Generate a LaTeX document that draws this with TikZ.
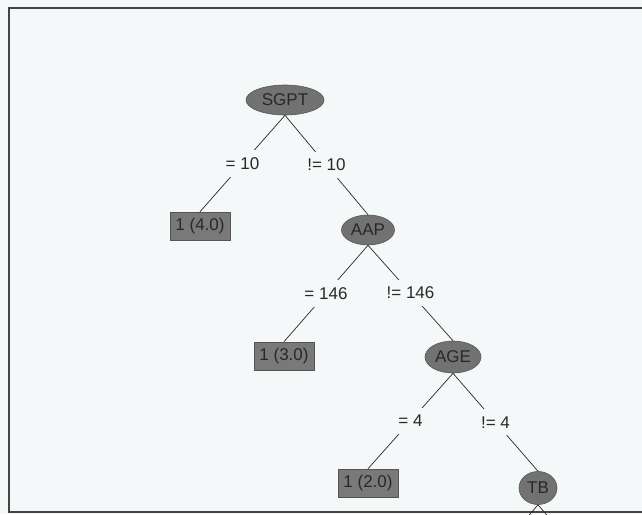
\documentclass[tikz,border=0pt]{standalone}
\usepackage{fontspec}
\setmainfont{Liberation Sans}
\usepackage{tikz}
\usetikzlibrary{
  	shapes.geometric,
  	positioning,
  	calc
  }
\definecolor{pagebg}{RGB}{245,248,248}
\definecolor{nodegray}{RGB}{114,114,114}
\definecolor{rimgray}{RGB}{85,85,85}
\definecolor{inkgray}{RGB}{40,40,40}
\tikzstyle{split}=[ellipse,fill=nodegray,draw=rimgray,line width=0.6pt,inner sep=1pt,text=inkgray,minimum height=30pt]
\tikzstyle{leaf}=[rectangle,fill=nodegray!95!white,draw=rimgray,line width=0.6pt,inner sep=1pt,text=inkgray,minimum width=60pt,minimum height=28pt]
\tikzstyle{cond}=[fill=pagebg,inner xsep=1pt,inner ysep=7pt,text=inkgray]
\tikzstyle{branch}=[draw=inkgray,line width=0.7pt]

\begin{document}
\begin{tikzpicture}[x=1pt,y=-1pt,font=\fontsize{17}{20}\selectfont]
    \useasboundingbox (0,0) rectangle (642,514);
    \fill[pagebg] (0,0) rectangle (642,514);
    \clip (0,0) rectangle (642,514);
    \draw[rimgray!80!black,line width=1.8pt] (9,8) rectangle (660,512);
    \node[split,minimum width=78pt] (sgpt) at (285,100) {SGPT};
    \node[leaf] (l4) at (200,226) {1 (4.0)};
    \node[split,minimum width=53pt] (aap) at (368,230) {AAP};
    \node[leaf] (l3) at (284,356) {1 (3.0)};
    \node[split,minimum width=56pt,minimum height=32pt] (age) at (453,357) {AGE};
    \node[leaf] (l2) at (368,483) {1 (2.0)};
    \node[split,minimum width=38pt,minimum height=33pt] (tb) at (538,488) {TB};
    \coordinate (tbl) at (518,528);
    \coordinate (tbr) at (558,528);
    \path[branch] (sgpt.south) -- node[cond] {= 10} (l4.north);
    \path[branch] (sgpt.south) -- node[cond] {!= 10} (aap.north);
    \path[branch] (aap.south) -- node[cond] {= 146} (l3.north);
    \path[branch] (aap.south) -- node[cond] {!= 146} (age.north);
    \path[branch] (age.south) -- node[cond] {= 4} (l2.north);
    \path[branch] (age.south) -- node[cond] {!= 4} (tb.north);
    \path[branch] (tb.south) -- (tbl);
    \path[branch] (tb.south) -- (tbr);
    \end{tikzpicture}
\end{document}
